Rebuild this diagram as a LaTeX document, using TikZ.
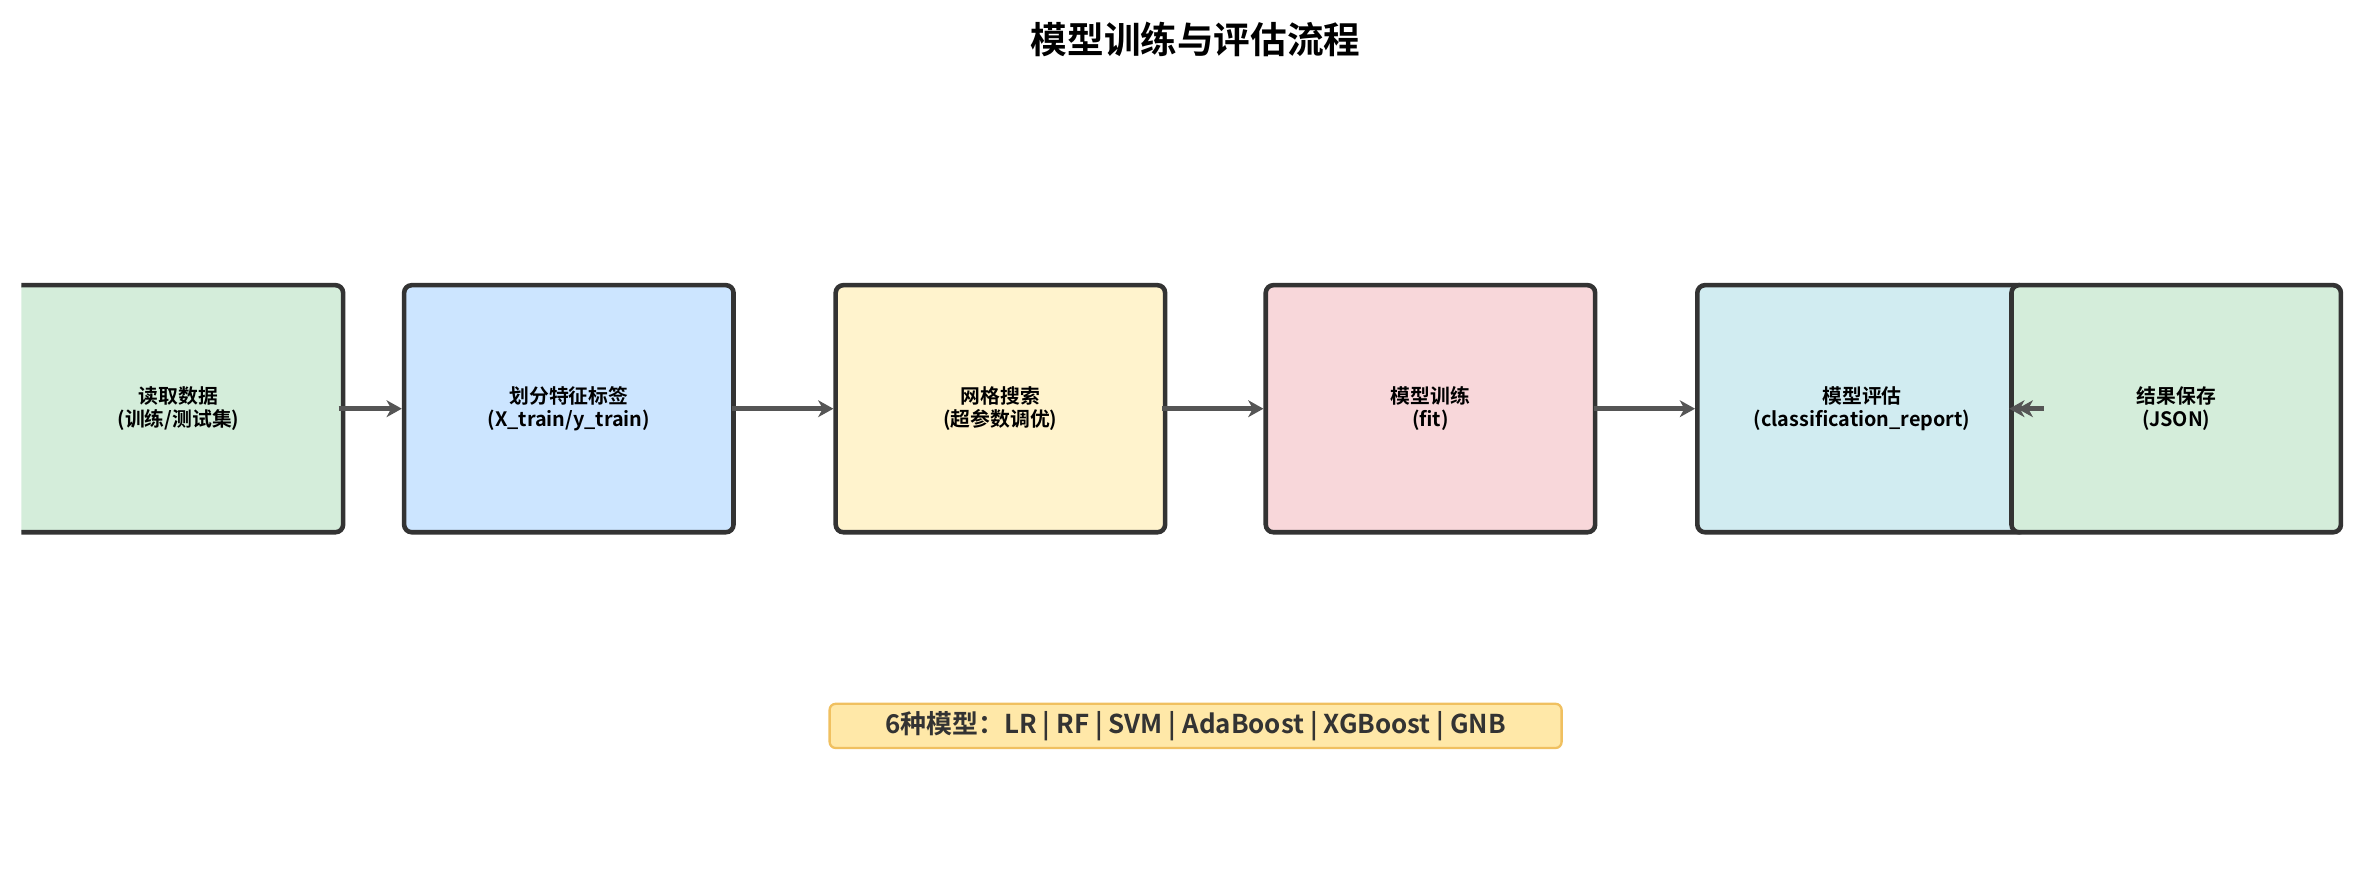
\documentclass[tikz,border=0pt]{standalone}
\usepackage{fontspec}
\setmainfont{Noto Sans CJK SC}[BoldFont={* Bold}]
\usetikzlibrary{arrows.meta}
\definecolor{cg}{HTML}{D4EDDA}
\definecolor{cb}{HTML}{CCE5FF}
\definecolor{cy}{HTML}{FFF3CD}
\definecolor{cp}{HTML}{F8D7DA}
\definecolor{cc}{HTML}{D1ECF1}
\definecolor{bd}{HTML}{333333}
\definecolor{ar}{HTML}{555555}
\definecolor{lb}{HTML}{FFE8A8}
\definecolor{lbd}{HTML}{F0C060}
\begin{document}
\begin{tikzpicture}[x=1pt,y=-1pt,
  box/.style={draw=bd,line width=3pt,rounded corners=5pt,minimum width=216pt,minimum height=162pt,align=center,font=\bfseries\fontsize{13}{15}\selectfont,inner sep=0pt},
  arr/.style={draw=ar,line width=3.5pt,-{Stealth[length=10pt,width=11pt,inset=3pt]}}]
\useasboundingbox (0,0) rectangle (1560,575.7);
\node at (784,26) {\bfseries\fontsize{24}{28}\selectfont 模型训练与评估流程};
\begin{scope}
\clip (14,0) rectangle (1560,576);
\node[box,fill=cg] (b1) at (117,268) {读取数据\\(训练/测试集)};
\end{scope}
\node[box,fill=cb] (b2) at (373,268) {划分特征标签\\(X\_train/y\_train)};
\node[box,fill=cy] (b3) at (656,268) {网格搜索\\(超参数调优)};
\node[box,fill=cp] (b4) at (938,268) {模型训练\\(fit)};
\node[box,fill=cc] (b5) at (1221,268) {模型评估\\(classification\_report)};
\node[box,fill=cg] (b6) at (1427,268) {结果保存\\(JSON)};
\draw[arr] (222,268) -- (b2.west);
\draw[arr] (480,268) -- (b3.west);
\draw[arr] (762,268) -- (b4.west);
\draw[arr] (1045,268) -- (b5.west);
\coordinate (t6) at (1340,268);
\draw[arr] (t6) -- (b6.west);
\draw[arr] (t6) -- ++(-17,0);
\node[fill=lb,draw=lbd,line width=1.5pt,rounded corners=4pt,minimum width=480pt,minimum height=29pt,inner sep=2pt,text=bd,font=\bfseries\fontsize{17}{20}\selectfont] (lab) at (784,476) {6种模型：LR | RF | SVM | AdaBoost | XGBoost | GNB};
\end{tikzpicture}
\end{document}
